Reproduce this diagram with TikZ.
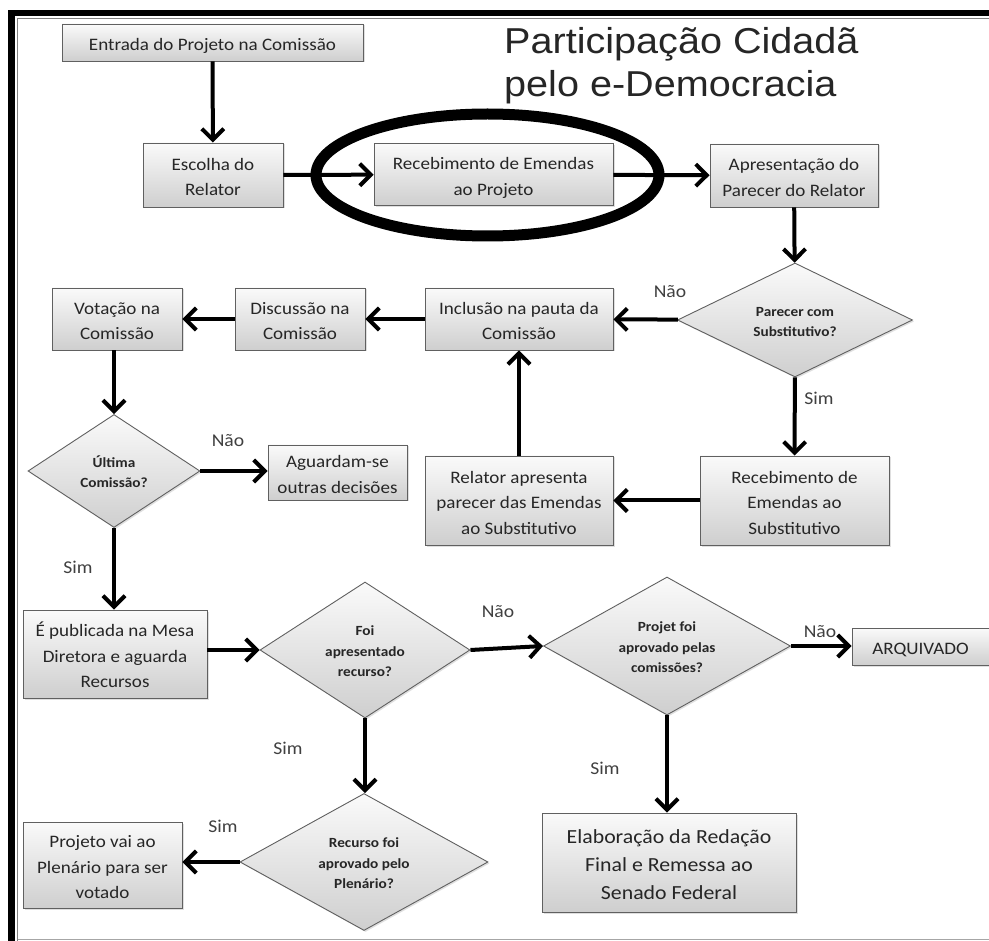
\documentclass[tikz,border=0pt]{standalone}
\usepackage{fontspec}
\setmainfont{Carlito}[FakeStretch=1.09]
\newfontfamily\titlefont{Liberation Sans}[FakeStretch=1.10]
\usetikzlibrary{arrows.meta,shapes.geometric,shadows}

% struts on the first and last line keep the text optically centred
\newcommand\ntop{\rule{0pt}{1.26em}}
\newcommand\nbot{\rule[-0.34em]{0pt}{0pt}}

\tikzset{
  shadebox/.style={draw=gray!75!black, line width=0.9pt,
    top color=gray!4, bottom color=gray!38,
    drop shadow={shadow xshift=1.5pt, shadow yshift=-1.5pt, opacity=0.25},
    inner sep=0pt, align=center, text=black!85},
  box/.style={shadebox, font=\fontsize{17.5}{25.5}\selectfont},
  bigbox/.style={shadebox, font=\fontsize{20}{28}\selectfont},
  decision/.style={shadebox, diamond, aspect=2,
    font=\bfseries\fontsize{14}{20.5}\selectfont},
  lbl/.style={font=\fontsize{18}{22}\selectfont, text=black!75, inner sep=0pt},
  flow/.style={line width=4pt,
    -{Straight Barb[length=11pt,width=22pt,line width=4pt]}},
}

\begin{document}
\begin{tikzpicture}[x=1pt,y=-1pt]
  % page and frame
  \fill[white] (0,0) rectangle (989,941);
  \useasboundingbox (0,0) rectangle (989,941);
  \fill[black] (8,10) rectangle (989,16);
  \fill[black] (8,10) rectangle (15,941);
  \draw[gray, line width=1.6pt] (989,18.5) -- (17.5,18.5) -- (17.5,941);
  \draw[gray!70, line width=1pt] (17.5,939) -- (989,939);

  % title
  \node[anchor=base west, inner sep=0pt, text=black!85,
        font=\titlefont\fontsize{36}{43}\selectfont] (title1) at (504,54) {Participação Cidadã};
  \node[anchor=base west, inner sep=0pt, text=black!85,
        font=\titlefont\fontsize{36}{43}\selectfont] (title2) at (504,97) {pelo e-Democracia};

  % first row
  \node[box, minimum width=301pt, minimum height=37pt] (entrada) at (212.5,42.5) {\ntop Entrada do Projeto na Comissão\nbot};
  \node[box, minimum width=140pt, minimum height=64pt] (escolha) at (213,175) {\ntop Escolha do\\Relator\nbot};
  \node[box, minimum width=239pt, minimum height=62pt] (receb) at (493.5,174.5) {\ntop Recebimento de Emendas\\ao Projeto\nbot};
  \node[box, minimum width=168pt, minimum height=63pt] (apres) at (794,175.5) {\ntop Apresentação do\\Parecer do Relator\nbot};

  % second row
  \node[decision, minimum width=235pt, minimum height=114pt] (parecer) at (795,320) {\ntop Parecer com\\Substitutivo?\nbot};
  \node[box, minimum width=188pt, minimum height=62pt] (inclusao) at (519,319) {\ntop Inclusão na pauta da\\Comissão\nbot};
  \node[box, minimum width=130pt, minimum height=62pt] (discussao) at (300,319) {\ntop Discussão na\\Comissão\nbot};
  \node[box, minimum width=130pt, minimum height=62pt] (votacao) at (117,319) {\ntop Votação na\\Comissão\nbot};

  % third row
  \node[box, minimum width=189pt, minimum height=89pt] (recsub) at (794.5,500.5) {\ntop Recebimento de\\Emendas ao\\Substitutivo\nbot};
  \node[box, minimum width=188pt, minimum height=89pt] (relator) at (519,500.5) {\ntop Relator apresenta\\parecer das Emendas\\ao Substitutivo\nbot};
  \node[decision, minimum width=172pt, minimum height=113pt] (ultima) at (114,471) {\ntop Última\\Comissão?\nbot};
  \node[box, minimum width=139pt, minimum height=55pt] (aguardam) at (337.5,472.5) {\ntop Aguardam-se\\outras decisões\nbot};

  % fourth row
  \node[box, minimum width=184pt, minimum height=88pt] (publicada) at (115,654) {\ntop É publicada na Mesa\\Diretora e aguarda\\Recursos\nbot};
  \node[decision, minimum width=210pt, minimum height=136pt] (foi) at (365,650) {\ntop Foi\\apresentado\\recurso?\nbot};
  \node[decision, minimum width=247pt, minimum height=138pt] (projet) at (667,646) {\ntop Projet foi\\aprovado pelas\\comissões?\nbot};
  \node[box, minimum width=137pt, minimum height=37pt] (arquivado) at (920.5,646.5) {\ntop ARQUIVADO\nbot};

  % last row
  \node[bigbox, minimum width=254pt, minimum height=99pt] (elaboracao) at (669,862.5) {\ntop Elaboração da Redação\\Final e Remessa ao\\Senado Federal\nbot};
  \node[decision, minimum width=248pt, minimum height=137pt] (recurso) at (364,862) {\ntop Recurso foi\\aprovado pelo\\Plenário?\nbot};
  \node[box, minimum width=159pt, minimum height=86pt] (projetovai) at (102.5,865) {\ntop Projeto vai ao\\Plenário para ser\\votado\nbot};

  % connectors
  \draw[flow] (entrada) -- (escolha);
  \draw[flow] (escolha) -- (receb);
  \draw[flow] (receb) -- (apres);
  \draw[flow] (apres) -- (parecer);
  \draw[flow] (parecer) -- (inclusao);
  \draw[flow] (inclusao) -- (discussao);
  \draw[flow] (discussao) -- (votacao);
  \draw[flow] (votacao.south -| ultima.north) -- (ultima.north);
  \draw[flow] (ultima) -- (aguardam.west |- ultima.east);
  \draw[flow] (parecer) -- (recsub);
  \draw[flow] (recsub) -- (relator);
  \draw[flow] (relator) -- (inclusao);
  \draw[flow] (ultima.south) -- (ultima.south |- publicada.north);
  \draw[flow] (publicada.east |- foi.west) -- (foi.west);
  \draw[flow] (foi.east) -- (projet.west);
  \draw[flow] (projet.east) -- (arquivado.west |- projet.east);
  \draw[flow] (projet.south) -- (projet.south |- elaboracao.north);
  \draw[flow] (foi.south) -- (foi.south |- recurso.north);
  \draw[flow] (recurso.west) -- (projetovai.east |- recurso.west);

  % branch labels
  \node[lbl] (l1) at (670,292) {Não};
  \node[lbl] (l2) at (819,398) {Sim};
  \node[lbl] (l3) at (228,441) {Não};
  \node[lbl] (l4) at (78,567) {Sim};
  \node[lbl] (l5) at (498,612) {Não};
  \node[lbl] (l6) at (820,632) {Não};
  \node[lbl] (l7) at (605,768) {Sim};
  \node[lbl] (l8) at (288,748) {Sim};
  \node[lbl] (l9) at (223,826) {Sim};

  % highlight ring around the amendments step
  \node[ellipse, draw=black, line width=11pt, minimum width=343pt,
        minimum height=122pt, inner sep=0pt] (ring) at (487.5,175) {};
\end{tikzpicture}
\end{document}
